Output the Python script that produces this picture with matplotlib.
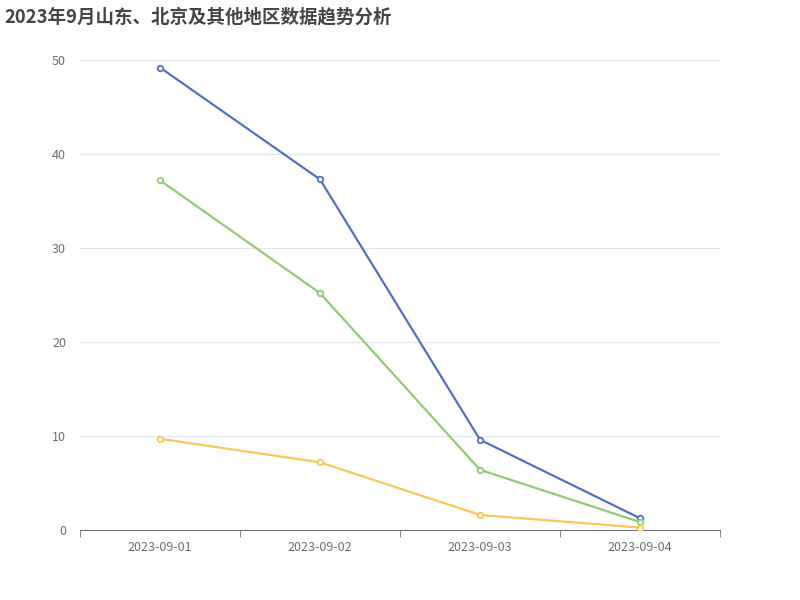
import numpy as np
import matplotlib
matplotlib.use('Agg')
import matplotlib.pyplot as plt

plt.rcParams['font.family'] = ['Noto Sans CJK SC', 'DejaVu Sans']

dates = ['2023-09-01', '2023-09-02', '2023-09-03', '2023-09-04']
series_blue = [49.2, 37.3, 9.6, 1.25]
series_green = [37.2, 25.2, 6.4, 0.85]
series_yellow = [9.7, 7.2, 1.6, 0.25]
title = '2023年9月山东、北京及其他地区数据趋势分析'

fig = plt.figure(figsize=(8, 6), dpi=100)
ax = fig.add_axes([0.1, 0.1167, 0.8, 0.7833])

x = np.arange(len(dates))
for vals, color in [(series_blue, '#5470c6'), (series_green, '#91cc75'), (series_yellow, '#fac858')]:
    ax.plot(x, vals, color=color, linewidth=1.6, marker='o', markersize=4,
            markerfacecolor='white', markeredgecolor=color, markeredgewidth=1.3, zorder=3)

ax.set_xlim(-0.5, len(dates) - 0.5)
ax.set_ylim(0, 50)
ax.set_yticks([0, 10, 20, 30, 40, 50])
ax.set_xticks(x)
ax.set_xticklabels(dates)
ax.set_xticks(np.arange(-0.5, len(dates), 1), minor=True)
ax.tick_params(axis='x', which='major', length=0, pad=8, labelsize=9, labelcolor='#6e7079')
ax.tick_params(axis='x', which='minor', length=5, color='#6e7079', direction='out')
ax.tick_params(axis='y', length=0, pad=10, labelsize=9, labelcolor='#6e7079')
ax.grid(axis='y', color='#e0e6f1', linewidth=0.8)
ax.set_axisbelow(True)
for side in ['top', 'right', 'left']:
    ax.spines[side].set_visible(False)
ax.spines['bottom'].set_color('#6e7079')

fig.text(0.006, 0.987, title, fontsize=13.3, fontweight='bold', color='#464646', va='top', ha='left')

fig.savefig('out.png', dpi=100)
